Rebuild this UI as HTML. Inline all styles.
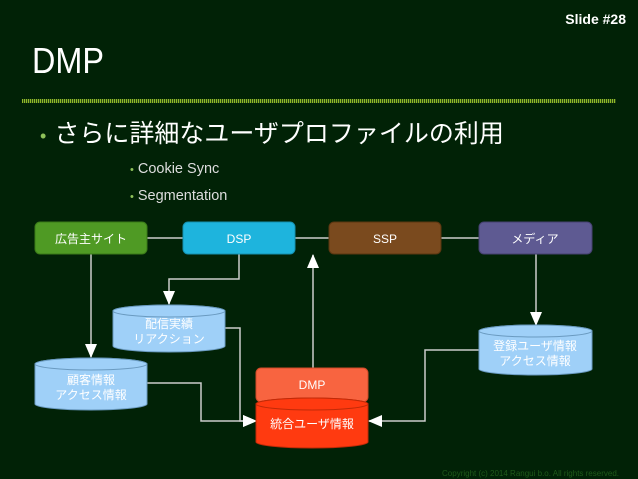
<!DOCTYPE html>
<html><head><meta charset="utf-8"><style>
body{margin:0;width:638px;height:479px;background:#012206;overflow:hidden;font-family:"Liberation Sans","Noto Sans CJK JP",sans-serif;position:relative;color:#fff}
.a{position:absolute;white-space:nowrap}
</style></head><body>
<div class="a" style="right:12px;top:11px;font-size:14px;font-weight:bold">Slide #28</div>
<div class="a" style="left:32px;top:40px;font-size:36px;transform:scaleX(0.9);transform-origin:left;font-weight:300">DMP</div>
<div class="a" style="left:22px;top:99px;width:594px;height:4px;background:repeating-linear-gradient(90deg,#8fb82a 0 1px,#2a4a10 1px 2px)"></div>
<div class="a" style="left:40px;top:114px;font-size:25px;"><span style="color:#8fc25a;font-size:18px;margin-right:8px">•</span>さらに詳細なユーザプロファイルの利用</div>
<div class="a" style="left:130px;top:161px;font-size:14.5px;color:#ddd;"><span style="color:#8fc25a;font-size:11px;margin-right:4px">•</span>Cookie Sync</div>
<div class="a" style="left:130px;top:188px;font-size:14.5px;color:#ddd;"><span style="color:#8fc25a;font-size:11px;margin-right:4px">•</span>Segmentation</div>
<svg class="a" style="left:0;top:0" width="638" height="479" font-family="Liberation Sans, Noto Sans CJK JP, sans-serif" font-size="12" fill="#fff">
<defs><marker id="m2" markerWidth="14" markerHeight="12" refX="13" refY="6" orient="auto" markerUnits="userSpaceOnUse"><path d="M0,0L14,6L0,12z" fill="#fff"/></marker></defs>
<g stroke="#ccc" stroke-width="1.5" fill="none">
<line x1="147" y1="238" x2="183" y2="238"/><line x1="295" y1="238" x2="329" y2="238"/><line x1="441" y1="238" x2="479" y2="238"/>
<polyline points="91,254 91,357" marker-end="url(#m2)"/>
<polyline points="239,254 239,279 169,279 169,304" marker-end="url(#m2)"/>
<polyline points="536,254 536,325" marker-end="url(#m2)"/>
<polyline points="313,368 313,255" marker-end="url(#m2)"/>
<polyline points="225,328 240,328 240,421 256,421" marker-end="url(#m2)"/>
<polyline points="147,383 201,383 201,421 256,421" marker-end="url(#m2)"/>
<polyline points="479,350 425,350 425,421 369,421" marker-end="url(#m2)"/>
</g>
<rect x="35" y="222" width="112" height="32" rx="5" fill="#4f9a24" stroke="#3a7a18"/>
<rect x="183" y="222" width="112" height="32" rx="5" fill="#1eb4dd" stroke="#1590b0"/>
<rect x="329" y="222" width="112" height="32" rx="5" fill="#7a4a1e" stroke="#5a3510"/>
<rect x="479" y="222" width="113" height="32" rx="5" fill="#5e5a92" stroke="#454070"/>
<g text-anchor="middle"><text x="91" y="243">広告主サイト</text><text x="239" y="243">DSP</text><text x="385" y="243">SSP</text><text x="535" y="243">メディア</text></g>
<g fill="#9fd0f8" stroke="#6a9ac0">
<path d="M113,311 v35 a56,6 0 0 0 112,0 v-35 a56,6 0 0 0 -112,0z"/><ellipse cx="169" cy="311" rx="56" ry="6"/>
<path d="M35,364 v40 a56,6 0 0 0 112,0 v-40 a56,6 0 0 0 -112,0z"/><ellipse cx="91" cy="364" rx="56" ry="6"/>
<path d="M479,331 v38 a56,6 0 0 0 113,0 v-38 a56,6 0 0 0 -113,0z"/><ellipse cx="535.5" cy="331" rx="56.5" ry="6"/>
</g>
<rect x="256" y="368" width="112" height="34" rx="5" fill="#f86440" stroke="#d04a28"/>
<path d="M256,404 v38 a56,6 0 0 0 112,0 v-38 a56,6 0 0 0 -112,0z" fill="#ff3a10" stroke="#c02a08"/><ellipse cx="312" cy="404" rx="56" ry="6" fill="#ff3a10" stroke="#c02a08"/>
<g text-anchor="middle">
<text x="169" y="328">配信実績</text><text x="169" y="343">リアクション</text>
<text x="91" y="384">顧客情報</text><text x="91" y="399">アクセス情報</text>
<text x="535" y="350">登録ユーザ情報</text><text x="535" y="365">アクセス情報</text>
<text x="312" y="389">DMP</text><text x="312" y="428">統合ユーザ情報</text>
</g>
<text x="619" y="476" text-anchor="end" font-size="8" fill="#1f5a1a">Copyright (c) 2014 Rangui b.o. All rights reserved.</text>
</svg>
</body></html>
